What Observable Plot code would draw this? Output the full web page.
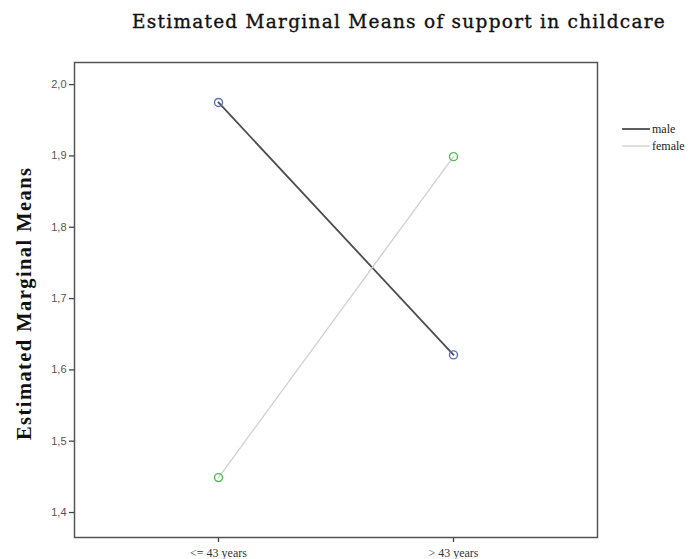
<!DOCTYPE html>
<html>
<head>
<meta charset="utf-8">
<script src="https://cdn.jsdelivr.net/npm/d3@7"></script>
<script src="https://cdn.jsdelivr.net/npm/@observablehq/plot@0.6"></script>
<style>
  html, body { margin: 0; padding: 0; background: #fff; }
  #wrap { position: relative; width: 697px; height: 559px; overflow: hidden; }
  #title { position: absolute; left: 0; top: 0; width: 697px; height: 50px; }
  #title span { position: absolute; left: 132px; top: 11px; font-family: "DejaVu Serif", serif; font-size: 18.5px; font-weight: normal; color: #111; white-space: nowrap; -webkit-text-stroke: 0.35px #111; }
  #chart { position: absolute; left: 0; top: 50px; }
</style>
</head>
<body>
<div id="wrap">
  <div id="title"><span id="tt">Estimated Marginal Means of support in childcare</span></div>
  <div id="chart"></div>
</div>
<script>
const titleText = "Estimated Marginal Means of support in childcare";
const yLabel = "Estimated Marginal Means";
const ageGroups = ["<= 43 years", "> 43 years"];
const genders = ["male", "female"];
const maleMeans = [1.975, 1.621];
const femaleMeans = [1.449, 1.899];
const yTicks = [1.4, 1.5, 1.6, 1.7, 1.8, 1.9, 2.0];

const lineColors = {male: "#4d4d4d", female: "#d2d2d2"};
const dotColors = {male: "#5b6fc4", female: "#4fbf4f"};

const data = [];
ageGroups.forEach((a, i) => {
  data.push({gender: "male", age: a, mean: maleMeans[i]});
  data.push({gender: "female", age: a, mean: femaleMeans[i]});
});

// fit title width
const tt = document.getElementById("tt");
tt.textContent = titleText;
{
  const w = tt.getBoundingClientRect().width;
  const target = 534;
  tt.style.letterSpacing = ((target - w) / titleText.length) + "px";
}

const fmt = d => d.toFixed(1).replace(".", ",");

const chart = Plot.plot({
  width: 697,
  height: 509,
  marginTop: 12,
  marginLeft: 74,
  marginRight: 100,
  marginBottom: 22,
  style: {fontFamily: "Liberation Serif, serif", background: "#fff"},
  x: {type: "point", domain: ageGroups, padding: 0.609, label: null},
  y: {domain: [1.365, 2.031], label: null},
  marks: [
    Plot.axisY({ticks: yTicks, tickFormat: fmt, tickSize: 5, tickPadding: 3, fontSize: 11, fontFamily: "Liberation Sans, sans-serif", fill: "#555", stroke: "#444", strokeWidth: 1.3}),
    Plot.axisX({tickSize: 5, tickPadding: 6, fontSize: 12, fill: "#333", stroke: "#444", strokeWidth: 1.3}),
    ...genders.map(g => Plot.line(data.filter(d => d.gender === g), {x: "age", y: "mean", stroke: lineColors[g], strokeWidth: g === "male" ? 1.8 : 1.4})),
    ...genders.map(g => Plot.dot(data.filter(d => d.gender === g), {x: "age", y: "mean", r: 4, stroke: dotColors[g], strokeWidth: 1.4, fill: "none"})),
    Plot.frame({stroke: "#555", strokeWidth: 1.5})
  ]
});
document.getElementById("chart").appendChild(chart);

const svg = d3.select(chart);

// y-axis title
svg.append("text")
  .attr("transform", "translate(24,254) rotate(-90)")
  .attr("text-anchor", "middle")
  .attr("dy", "0.35em")
  .attr("font-family", "Liberation Serif, serif")
  .attr("font-size", 20.5)
  .attr("font-weight", "bold")
  .attr("fill", "#111")
  .attr("textLength", 272)
  .attr("lengthAdjust", "spacing")
  .text(yLabel);

// legend (outside the plotting frame)
const lg = svg.append("g").attr("font-family", "Liberation Serif, serif").attr("font-size", 12).attr("text-anchor", "start");
genders.forEach((g, i) => {
  const y = 79 + i * 17;
  lg.append("line").attr("x1", 622).attr("x2", 650).attr("y1", y).attr("y2", y)
    .attr("stroke", lineColors[g]).attr("stroke-width", g === "male" ? 1.8 : 1.4);
  lg.append("text").attr("x", 652).attr("y", y).attr("dy", "0.32em").attr("fill", "#222").text(g);
});
</script>
</body>
</html>
